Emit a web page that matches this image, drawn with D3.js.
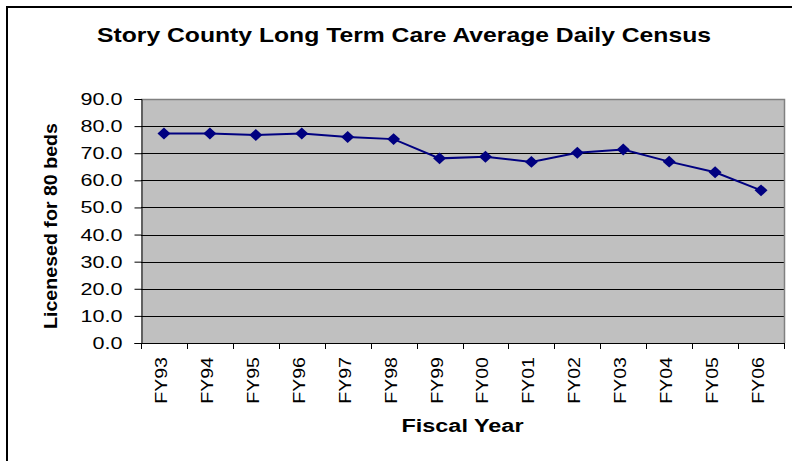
<!DOCTYPE html>
<html>
<head>
<meta charset="utf-8">
<style>
  body { margin: 0; background: #fff; }
  svg { display: block; font-family: "Liberation Sans", Arial, sans-serif; }
</style>
</head>
<body>
<svg width="792" height="461"></svg>
<script src="https://d3js.org/d3.v7.min.js"></script>
<script>

var years = ["FY93", "FY94", "FY95", "FY96", "FY97", "FY98", "FY99",
             "FY00", "FY01", "FY02", "FY03", "FY04", "FY05", "FY06"];
var census = [77.3, 77.3, 76.7, 77.3, 76.0, 75.2, 68.1,
              68.7, 66.8, 70.2, 71.4, 66.9, 63.0, 56.3];
var yTicks = [0, 10, 20, 30, 40, 50, 60, 70, 80, 90];

var svg = d3.select("svg");

var plot = { left: 141, right: 784, top: 99, bottom: 343 };

var x = d3.scaleBand()
    .domain(years)
    .range([plot.left, plot.right]);

var y = d3.scaleLinear()
    .domain([0, 90])
    .range([plot.bottom, plot.top]);

// stretch text horizontally like the original (resized picture)
function stretch(sel, k) {
  sel.each(function() {
    var len = this.getComputedTextLength();
    d3.select(this).attr("textLength", len * k).attr("lengthAdjust", "spacingAndGlyphs");
  });
}

// outer chart border
svg.append("path")
    .attr("d", "M7,461 V7 H792")
    .attr("fill", "none")
    .attr("stroke", "#000")
    .attr("stroke-width", 2);

// title
svg.append("text")
    .attr("x", 404)
    .attr("y", 42)
    .attr("text-anchor", "middle")
    .attr("font-size", 20.5)
    .attr("font-weight", "bold")
    .attr("textLength", 614)
    .attr("lengthAdjust", "spacingAndGlyphs")
    .text("Story County Long Term Care Average Daily Census");

// plot background
svg.append("rect")
    .attr("x", plot.left)
    .attr("y", plot.top)
    .attr("width", plot.right - plot.left)
    .attr("height", plot.bottom - plot.top)
    .attr("fill", "#c0c0c0");

// gridlines
svg.append("g")
  .selectAll("line")
  .data(yTicks.slice(1, -1))
  .join("line")
    .attr("x1", plot.left)
    .attr("x2", plot.right)
    .attr("y1", function(d) { return Math.round(y(d)) + 0.5; })
    .attr("y2", function(d) { return Math.round(y(d)) + 0.5; })
    .attr("stroke", "#000")
    .attr("stroke-width", 1);

// top and right plot border
svg.append("path")
    .attr("d", "M" + plot.left + "," + (plot.top + 0.5) + " H" + (plot.right + 0.5) + " V" + plot.bottom)
    .attr("fill", "none")
    .attr("stroke", "#808080")
    .attr("stroke-width", 1.5);

// y axis
var yAxis = svg.append("g")
    .attr("transform", "translate(" + (plot.left + 0.5) + ",0)")
    .call(d3.axisLeft(y)
      .tickValues(yTicks)
      .tickFormat(d3.format(".1f"))
      .tickSize(7)
      .tickPadding(12));
yAxis.select(".domain").attr("stroke", "#000");
yAxis.selectAll(".tick line").attr("stroke", "#000");
yAxis.selectAll(".tick text")
    .attr("font-family", "Liberation Sans, Arial, sans-serif")
    .attr("font-size", 17)
    .attr("fill", "#000")
    .call(stretch, 1.27);

// x axis baseline and ticks at category boundaries
svg.append("line")
    .attr("x1", plot.left)
    .attr("x2", plot.right + 1)
    .attr("y1", plot.bottom + 0.5)
    .attr("y2", plot.bottom + 0.5)
    .attr("stroke", "#000");

var edges = years.map(function(d) { return x(d); }).concat([plot.right]);
svg.append("g")
  .selectAll("line")
  .data(edges)
  .join("line")
    .attr("x1", function(d) { return Math.round(d) + 0.5; })
    .attr("x2", function(d) { return Math.round(d) + 0.5; })
    .attr("y1", plot.bottom)
    .attr("y2", plot.bottom + 6)
    .attr("stroke", "#000");

// x tick labels, rotated
svg.append("g")
  .selectAll("text")
  .data(years)
  .join("text")
    .attr("transform", function(d) {
      return "translate(" + (x(d) + x.bandwidth() / 2) + "," + plot.bottom + ") rotate(-90)";
    })
    .attr("x", -14)
    .attr("y", 3)
    .attr("text-anchor", "end")
    .attr("font-size", 17)
    .text(function(d) { return d; })
    .call(stretch, 1.15);

// axis titles
svg.append("text")
    .attr("x", (plot.left + plot.right) / 2)
    .attr("y", 432)
    .attr("text-anchor", "middle")
    .attr("font-size", 18)
    .attr("font-weight", "bold")
    .attr("textLength", 122)
    .attr("lengthAdjust", "spacingAndGlyphs")
    .text("Fiscal Year");

svg.append("text")
    .attr("transform", "translate(57,226) rotate(-90)")
    .attr("text-anchor", "middle")
    .attr("font-size", 17.5)
    .attr("font-weight", "bold")
    .attr("textLength", 206)
    .attr("lengthAdjust", "spacingAndGlyphs")
    .text("Licenesed for 80 beds");

// series line
var line = d3.line()
    .x(function(d, i) { return x(years[i]) + x.bandwidth() / 2; })
    .y(function(d) { return y(d); });

svg.append("path")
    .datum(census)
    .attr("d", line)
    .attr("fill", "none")
    .attr("stroke", "#000080")
    .attr("stroke-width", 2);

// diamond markers
svg.append("g")
  .selectAll("path")
  .data(census)
  .join("path")
    .attr("transform", function(d, i) {
      return "translate(" + (x(years[i]) + x.bandwidth() / 2) + "," + y(d) + ") scale(1,0.92) rotate(45)";
    })
    .attr("d", d3.symbol(d3.symbolSquare, 84))
    .attr("fill", "#000080");

</script>
</body>
</html>
